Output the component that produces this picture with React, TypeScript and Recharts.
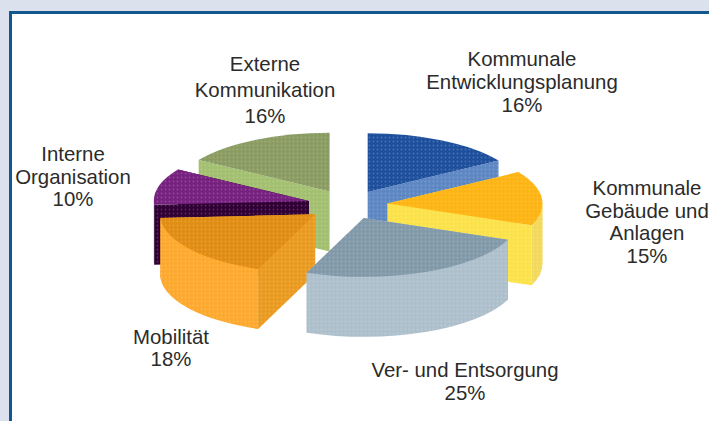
import { PieChart, Pie } from "recharts";

// ─── Data ─────────────────────────────────────────────────────────────────────

const CATEGORIES = [
  "Kommunale Entwicklungsplanung",
  "Kommunale Gebäude und Anlagen",
  "Ver- und Entsorgung",
  "Mobilität",
  "Interne Organisation",
  "Externe Kommunikation",
];
const SHARES = [16, 15, 25, 18, 10, 16];

const LABEL_LINES = [
  ["Kommunale", "Entwicklungsplanung", "16%"],
  ["Kommunale", "Gebäude und", "Anlagen", "15%"],
  ["Ver- und Entsorgung", "25%"],
  ["Mobilität", "18%"],
  ["Interne", "Organisation", "10%"],
  ["Externe", "Kommunikation", "16%"],
];

// ─── Styles ───────────────────────────────────────────────────────────────────

const W = 709;
const H = 421;
const TILT = 0.38;
const DEPTH = 60;

const TOP_COLS = ["#1F4F9C", "#FDB414", "#8199A9", "#E08D14", "#75207F", "#8A9C62"];
const CUT_COLS = ["#5C87C2", "#FBE24C", "#AEBFCC", "#E99A20", "#2E0034", "#A3BF70"];
const RIM_COLS = ["#5C87C2", "#F2D95C", "#AEBFCC", "#FCA92F", "#2E0034", "#A3BF70"];
const EXPLODE = [0.25, 0.25, 0.24, 0.27, 0.267, 0.26];
// painter's order, back slices first
const DRAW_ORDER = [5, 0, 4, 1, 3, 2];

const LABEL_POS = [
  { x: 522, y: 66, gap: 23 },
  { x: 647, y: 195, gap: 22.7 },
  { x: 465, y: 377, gap: 23 },
  { x: 171, y: 344, gap: 22 },
  { x: 73, y: 161, gap: 22.5 },
  { x: 265, y: 71, gap: 26 },
];

const chartData = CATEGORIES.map((name, i) => ({ name, value: SHARES[i] }));

// ─── 3D slice ─────────────────────────────────────────────────────────────────

function Slice3D({ cx, cy, outerRadius, startAngle, endAngle, midAngle, i }: any) {
  const rx = outerRadius;
  const ry = outerRadius * TILT;
  const rad = (a: number) => (a * Math.PI) / 180;
  const off = EXPLODE[i];
  const ax = cx + off * rx * Math.cos(rad(midAngle));
  const ay = cy - off * ry * Math.sin(rad(midAngle));
  const pt = (a: number, dz = 0) => [ax + rx * Math.cos(rad(a)), ay - ry * Math.sin(rad(a)) + dz];
  const P = (p: number[]) => `${p[0].toFixed(1)} ${p[1].toFixed(1)}`;

  const cut = (a: number) =>
    `M${ax} ${ay} L${P(pt(a))} L${P(pt(a, DEPTH))} L${ax} ${ay + DEPTH} Z`;

  // angles run clockwise, so s > e after this
  const norm = (a: number) => ((a % 360) + 360) % 360;
  const s = norm(startAngle);
  let e = norm(endAngle);
  if (e >= s) e -= 360;

  // the rim only shows on the front half (math angles 180..360)
  let front: number[] | null = null;
  if (s > 180) {
    const lo = Math.max(e, 180);
    if (s > lo) front = [s, lo];
  } else if (e < 0) {
    front = [360, Math.max(360 + e, 180)];
  }

  const large = Math.abs(s - e) > 180 ? 1 : 0;
  const top = `M${ax} ${ay} L${P(pt(s))} A${rx} ${ry} 0 ${large} 1 ${P(pt(e))} Z`;
  const rim = front
    ? `M${P(pt(front[0]))} A${rx} ${ry} 0 0 1 ${P(pt(front[1]))} L${P(pt(front[1], DEPTH))} A${rx} ${ry} 0 0 0 ${P(pt(front[0], DEPTH))} Z`
    : null;

  const startFront = Math.cos(rad(s)) < -0.001;
  const endFront = Math.cos(rad(e)) > 0.001;

  const faces: { d: string; col: string }[] = [];
  if (!startFront) faces.push({ d: cut(s), col: CUT_COLS[i] });
  if (!endFront) faces.push({ d: cut(e), col: CUT_COLS[i] });
  if (rim) faces.push({ d: rim, col: RIM_COLS[i] });
  if (startFront) faces.push({ d: cut(s), col: CUT_COLS[i] });
  if (endFront) faces.push({ d: cut(e), col: CUT_COLS[i] });
  faces.push({ d: top, col: TOP_COLS[i] });

  return (
    <g filter="url(#soft)">
      {faces.map((f, k) => (
        <g key={k}>
          <path d={f.d} fill={f.col} />
          <path d={f.d} fill="url(#dots)" />
        </g>
      ))}
    </g>
  );
}

// ─── Main ─────────────────────────────────────────────────────────────────────

export default function App() {
  return (
    <div style={{ position: "absolute", left: 0, top: 0, width: W, height: H, overflow: "hidden", background: "#DCE1EE" }}>
      <div style={{
        position: "absolute", left: 9, top: 11, width: W, height: H,
        background: "#fff", border: "3px solid #12588F", boxSizing: "border-box",
      }} />
      <div style={{ position: "absolute", left: 0, top: 0 }}>
        <PieChart width={W} height={H} margin={{ top: 0, right: 0, bottom: 0, left: 0 }}>
          <defs>
            <pattern id="dots" width="4" height="4" patternUnits="userSpaceOnUse">
              <circle cx="1.5" cy="1.5" r="0.9" fill="#fff" fillOpacity="0.18" />
            </pattern>
            <filter id="soft" x="-5%" y="-5%" width="110%" height="110%">
              <feGaussianBlur stdDeviation="0.5" />
            </filter>
          </defs>
          {DRAW_ORDER.map((idx) => (
            <Pie
              key={idx}
              data={chartData}
              dataKey="value"
              nameKey="name"
              cx={349}
              cy={205}
              outerRadius={155}
              startAngle={90}
              endAngle={-270}
              stroke="none"
              isAnimationActive={false}
              shape={(props: any) =>
                props.name === CATEGORIES[idx] ? <Slice3D {...props} i={idx} /> : <g />
              }
            />
          ))}
          {LABEL_LINES.map((lines, i) => (
            <text
              key={i}
              textAnchor="middle"
              fill="#2B2B2B"
              style={{ fontFamily: "'Liberation Sans', Arial, sans-serif", fontSize: 20.4 }}
            >
              {lines.map((line, k) => (
                <tspan key={k} x={LABEL_POS[i].x} y={LABEL_POS[i].y + k * LABEL_POS[i].gap}>
                  {line}
                </tspan>
              ))}
            </text>
          ))}
        </PieChart>
      </div>
    </div>
  );
}
